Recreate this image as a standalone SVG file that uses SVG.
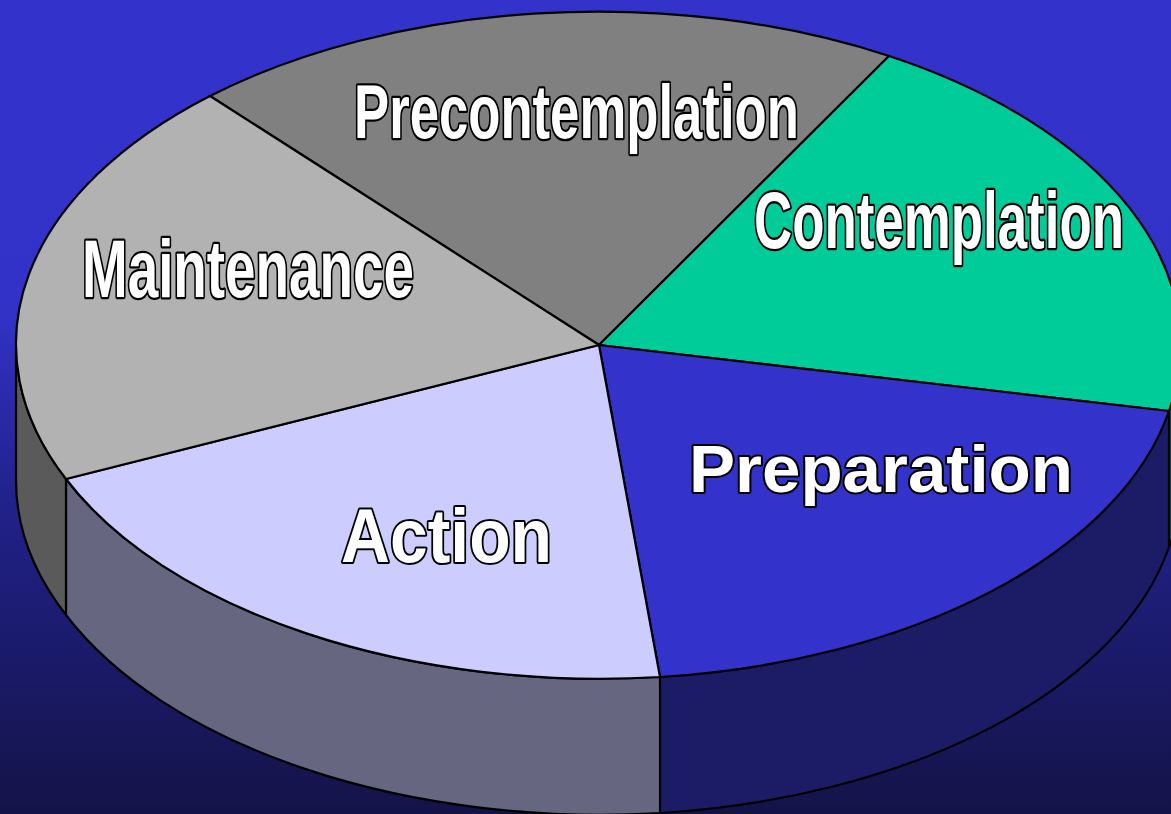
<svg xmlns="http://www.w3.org/2000/svg" width="1171" height="814" viewBox="0 0 1171 814">
  <defs>
    <linearGradient id="bg" x1="0" y1="0" x2="0" y2="1">
      <stop offset="0" stop-color="#3333cc"/>
      <stop offset="0.38" stop-color="#3232c8"/>
      <stop offset="0.62" stop-color="#21218a"/>
      <stop offset="1" stop-color="#141348"/>
    </linearGradient>
    <style>
      .edge { stroke: #000; stroke-width: 2.2; stroke-linejoin: round; }
      .label { fill: #fff; stroke: #000; stroke-width: 4; paint-order: stroke; stroke-linejoin: round; font-weight: bold; font-family: "Liberation Sans", Arial, sans-serif; }
      /* condensed labels are squeezed horizontally by a transform */
      .narrow { vector-effect: non-scaling-stroke; }
    </style>
  </defs>

  <!-- backdrop -->
  <rect x="0" y="0" width="1171" height="814" fill="url(#bg)"/>

  <!-- pie: top ellipse centre (599,345), rx 583, ry 333, extrusion depth 136 -->
  <g id="connectors"></g>

  <g id="node-precontemplation">
    <path class="edge" fill="#808080" d="M 599 345 L 210 96 A 583 333 0 0 1 889 56 Z"/>
    <text class="label narrow" transform="translate(354 138) scale(0.693 1)" x="0" y="0" font-size="76" textLength="642" lengthAdjust="spacingAndGlyphs">Precontemplation</text>
  </g>

  <g id="node-contemplation">
    <path class="edge" fill="#006b50" d="M 1169 411 A 583 333 0 0 0 1182 345 L 1182 481 A 583 333 0 0 1 1169 547 Z"/>
    <path class="edge" fill="#00cc99" d="M 599 345 L 889 56 A 583 333 0 0 1 1169 411 Z"/>
    <text class="label narrow" transform="translate(754 248) scale(0.669 1)" x="0" y="0" font-size="79" textLength="553" lengthAdjust="spacingAndGlyphs">Contemplation</text>
  </g>

  <g id="node-preparation">
    <path class="edge" fill="#1c1c66" d="M 660 677 A 583 333 0 0 0 1169 411 L 1169 547 A 583 333 0 0 1 660 813 Z"/>
    <path class="edge" fill="#3333cc" d="M 599 345 L 1169 411 A 583 333 0 0 1 660 677 Z"/>
    <text class="label" x="689" y="492" font-size="67" textLength="384" lengthAdjust="spacingAndGlyphs">Preparation</text>
  </g>

  <g id="node-action">
    <path class="edge" fill="#666680" d="M 66 479 A 583 333 0 0 0 660 677 L 660 813 A 583 333 0 0 1 66 615 Z"/>
    <path class="edge" fill="#ccccff" d="M 599 345 L 660 677 A 583 333 0 0 1 66 479 Z"/>
    <text class="label" x="341" y="562" font-size="76" textLength="211" lengthAdjust="spacingAndGlyphs">Action</text>
  </g>

  <g id="node-maintenance">
    <path class="edge" fill="#5a5a5a" d="M 16 345 A 583 333 0 0 0 66 479 L 66 615 A 583 333 0 0 1 16 481 Z"/>
    <path class="edge" fill="#b2b2b2" d="M 599 345 L 66 479 A 583 333 0 0 1 210 96 Z"/>
    <text class="label narrow" transform="translate(82 297) scale(0.668 1)" x="0" y="0" font-size="82" textLength="497" lengthAdjust="spacingAndGlyphs">Maintenance</text>
  </g>
</svg>
